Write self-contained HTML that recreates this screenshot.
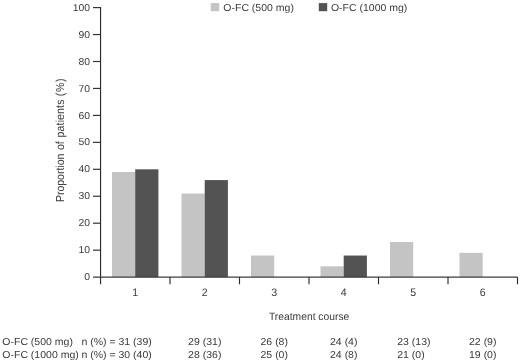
<!DOCTYPE html><html><head><meta charset="utf-8"><style>html,body{margin:0;padding:0;background:#fff}svg{display:block}text{text-rendering:geometricPrecision;font-family:"Liberation Sans",sans-serif;font-size:10.05px;fill:#3a3a3a}</style></head><body>
<svg style="will-change:transform;opacity:0.999" width="520" height="362" viewBox="0 0 520 362">
<rect width="520" height="362" fill="#fff"/>
<rect x="112.00" y="172.00" width="23.20" height="105.10" fill="#c4c4c4"/>
<rect x="135.20" y="169.30" width="23.20" height="107.80" fill="#535353"/>
<rect x="181.50" y="193.56" width="23.20" height="83.55" fill="#c4c4c4"/>
<rect x="204.70" y="180.08" width="23.20" height="97.02" fill="#535353"/>
<rect x="251.00" y="255.54" width="23.20" height="21.56" fill="#c4c4c4"/>
<rect x="320.50" y="266.32" width="23.20" height="10.78" fill="#c4c4c4"/>
<rect x="343.70" y="255.54" width="23.20" height="21.56" fill="#535353"/>
<rect x="390.00" y="242.07" width="23.20" height="35.03" fill="#c4c4c4"/>
<rect x="459.50" y="252.85" width="23.20" height="24.25" fill="#c4c4c4"/>
<g fill="none">
<path d="M100.55 7.05 V284.30" stroke="#2c2c2c" stroke-width="1.15"/>
<path d="M93.00 277.10 H517.5" stroke="#3c3c3c" stroke-width="1.45"/>
<path d="M93.00 250.15 H100.50" stroke="#333" stroke-width="1.2"/>
<path d="M93.00 223.20 H100.50" stroke="#333" stroke-width="1.2"/>
<path d="M93.00 196.25 H100.50" stroke="#333" stroke-width="1.2"/>
<path d="M93.00 169.30 H100.50" stroke="#333" stroke-width="1.2"/>
<path d="M93.00 142.35 H100.50" stroke="#333" stroke-width="1.2"/>
<path d="M93.00 115.40 H100.50" stroke="#333" stroke-width="1.2"/>
<path d="M93.00 88.45 H100.50" stroke="#333" stroke-width="1.2"/>
<path d="M93.00 61.50 H100.50" stroke="#333" stroke-width="1.2"/>
<path d="M93.00 34.55 H100.50" stroke="#333" stroke-width="1.2"/>
<path d="M93.00 7.60 H100.50" stroke="#333" stroke-width="1.2"/>
<path d="M170.00 277.10 V284.30" stroke="#2c2c2c" stroke-width="1.15"/>
<path d="M239.50 277.10 V284.30" stroke="#2c2c2c" stroke-width="1.15"/>
<path d="M309.00 277.10 V284.30" stroke="#2c2c2c" stroke-width="1.15"/>
<path d="M378.50 277.10 V284.30" stroke="#2c2c2c" stroke-width="1.15"/>
<path d="M448.00 277.10 V284.30" stroke="#2c2c2c" stroke-width="1.15"/>
<path d="M517.50 277.10 V284.30" stroke="#2c2c2c" stroke-width="1.15"/>
</g>
<text transform="translate(90.10,280.20) scale(1.040,1)" text-anchor="end" style="font-size:10.0px">0</text>
<text transform="translate(90.10,253.25) scale(1.040,1)" text-anchor="end" style="font-size:10.0px">10</text>
<text transform="translate(90.10,226.30) scale(1.040,1)" text-anchor="end" style="font-size:10.0px">20</text>
<text transform="translate(90.10,199.35) scale(1.040,1)" text-anchor="end" style="font-size:10.0px">30</text>
<text transform="translate(90.10,172.40) scale(1.040,1)" text-anchor="end" style="font-size:10.0px">40</text>
<text transform="translate(90.10,145.45) scale(1.040,1)" text-anchor="end" style="font-size:10.0px">50</text>
<text transform="translate(90.10,118.50) scale(1.040,1)" text-anchor="end" style="font-size:10.0px">60</text>
<text transform="translate(90.10,91.55) scale(1.040,1)" text-anchor="end" style="font-size:10.0px">70</text>
<text transform="translate(90.10,64.60) scale(1.040,1)" text-anchor="end" style="font-size:10.0px">80</text>
<text transform="translate(90.10,37.65) scale(1.040,1)" text-anchor="end" style="font-size:10.0px">90</text>
<text transform="translate(90.10,10.70) scale(1.040,1)" text-anchor="end" style="font-size:10.0px">100</text>
<text transform="translate(135.25,295.75) scale(0.975,1)" text-anchor="middle" style="font-size:10.9px">1</text>
<text transform="translate(204.75,295.75) scale(0.975,1)" text-anchor="middle" style="font-size:10.9px">2</text>
<text transform="translate(274.25,295.75) scale(0.975,1)" text-anchor="middle" style="font-size:10.9px">3</text>
<text transform="translate(343.75,295.75) scale(0.975,1)" text-anchor="middle" style="font-size:10.9px">4</text>
<text transform="translate(413.25,295.75) scale(0.975,1)" text-anchor="middle" style="font-size:10.9px">5</text>
<text transform="translate(482.75,295.75) scale(0.975,1)" text-anchor="middle" style="font-size:10.9px">6</text>
<text transform="translate(309.10,320.45) scale(0.972,1)" text-anchor="middle" style="font-size:10.6px">Treatment course</text>
<text transform="translate(63.5,202.1) rotate(-90) scale(1,1.11)" style="font-size:10.5px"><tspan x="0">Proportion</tspan><tspan x="52.0">of</tspan><tspan x="64.7" style="letter-spacing:0.15px">patients</tspan><tspan x="105.8" style="letter-spacing:0.75px">(%)</tspan></text>
<rect x="210.8" y="3.1" width="8.4" height="8.1" fill="#c4c4c4"/>
<text transform="translate(223.30,10.90) scale(1.045,1)" text-anchor="start" style="font-size:10.05px">O-FC (500 mg)</text>
<rect x="318.8" y="3.1" width="8.4" height="8.1" fill="#535353"/>
<text transform="translate(330.90,10.90) scale(1.045,1)" text-anchor="start" style="font-size:10.05px">O-FC (1000 mg)</text>
<text transform="translate(2.30,345.15) scale(1.045,1)" text-anchor="start" style="font-size:10.05px">O-FC (500 mg)</text>
<text transform="translate(2.30,357.55) scale(1.045,1)" text-anchor="start" style="font-size:10.05px">O-FC (1000 mg)</text>
<text transform="translate(81.40,345.15) scale(1.045,1)" text-anchor="start" style="font-size:10.05px">n (%) = 31 (39)</text>
<text transform="translate(81.40,357.55) scale(1.045,1)" text-anchor="start" style="font-size:10.05px">n (%) = 30 (40)</text>
<text transform="translate(188.11,345.15) scale(1.045,1)" text-anchor="start" style="font-size:10.05px">29 (31)</text>
<text transform="translate(188.11,357.55) scale(1.045,1)" text-anchor="start" style="font-size:10.05px">28 (36)</text>
<text transform="translate(260.53,345.15) scale(1.045,1)" text-anchor="start" style="font-size:10.05px">26 (8)</text>
<text transform="translate(260.53,357.55) scale(1.045,1)" text-anchor="start" style="font-size:10.05px">25 (0)</text>
<text transform="translate(330.03,345.15) scale(1.045,1)" text-anchor="start" style="font-size:10.05px">24 (4)</text>
<text transform="translate(330.03,357.55) scale(1.045,1)" text-anchor="start" style="font-size:10.05px">24 (8)</text>
<text transform="translate(397.21,345.15) scale(1.045,1)" text-anchor="start" style="font-size:10.05px">23 (13)</text>
<text transform="translate(397.21,357.55) scale(1.045,1)" text-anchor="start" style="font-size:10.05px">21 (0)</text>
<text transform="translate(469.03,345.15) scale(1.045,1)" text-anchor="start" style="font-size:10.05px">22 (9)</text>
<text transform="translate(469.03,357.55) scale(1.045,1)" text-anchor="start" style="font-size:10.05px">19 (0)</text>
</svg></body></html>
